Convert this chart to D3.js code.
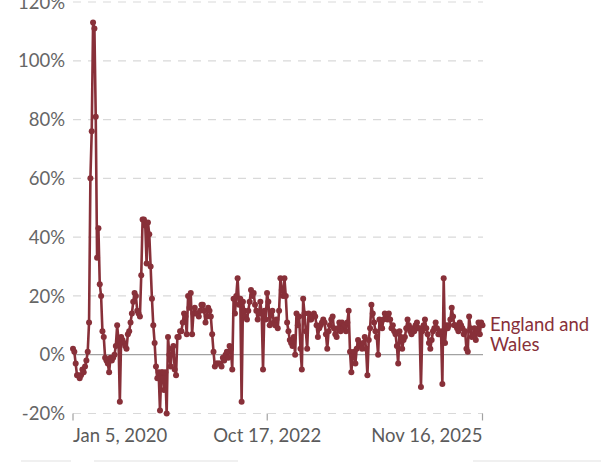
<!DOCTYPE html>
<html><head><meta charset="utf-8">
<script src="https://cdn.jsdelivr.net/npm/d3@7"></script>
<style>
html,body{margin:0;padding:0;background:#fff;}
svg{display:block;font-family:Lato,"Noto Sans",sans-serif;}
</style></head><body>
<svg id="chart" width="601" height="462"></svg>
<script>
// weekly series, first week ending 2020-01-05
const startDate = "2020-01-05";
const seriesLabel = ["England and", "Wales"];
const values = [
  2, 1, -3, -7, -7, -8, -7, -5, -6, -4, -2, 1,
  11, 60, 76, 113, 111, 81, 33, 43, 24, 20,
  8, 6, -1, -2, -3, -6, -1, -2, -1, 0, 3, 10,
  5, -16, 6, 5, 4, 3, 2, 7, 8, 11,
  14, 18, 21, 20, 15, 14, 13,
  27, 46, 46, 44, 31, 45, 41, 30, 19, 10,
  4, -4, -8, -6, -19, -6, -6, -12, -6, -20,
  6, 0, -4, 2, 3, -5, -7, 6, 6, 8,
  8, 11, 14, 13, 7, 20, 16, 21, 7, 14,
  16, 14, 14, 13, 15, 17, 17, 15, 11, 13,
  16, 15, 13, 7, 1, -4, -3, -3, -3, -3,
  -4, -1, -2, 0, 1, -1, 3, 2, -5, 19,
  14, 20, 26, 17, 19, -16, 18, 15, 13, 12,
  15, 18, 22, 20, 21, 17, 15, 12, 14, 18,
  14, -5, 15, 12, 21, 18, 10, 14, 15, 11,
  10, 12, 9, 15, 26, 22, 20, 26, 20, 11,
  8, 5, 4, 3, 6, 0, 14, 10, 13, 2,
  -5, 19, 14, 8, 2, 14, 12, 12, 13, 14,
  13, 10, 6, 9, 10, 11, 12, 11, 7, 2,
  8, 10, 12, 13, 9, 7, 6, 9, 11, 8,
  11, 9, 10, 8, 11, 15, 1, -6, 0, 1,
  -3, 2, 5, 4, 3, 2, 4, 6, 2, -7,
  5, 9, 17, 14, 11, 8, 6, 0, 12, 11,
  9, 12, 14, 13, 12, 14, 12, 9, 10, 8,
  7, 3, -3, 8, 6, 2, 5, 6, 9, 12,
  10, 8, 7, 9, 8, 10, 11, 9, 9, -11,
  8, 10, 12, 9, 7, 4, 2, 5, 8, 9,
  11, 9, 7, 7, 8, -10, 26, 4, 10, 9,
  10, 12, 16, 13, 10, 10, 9, 8, 11, 10,
  9, 7, 8, 2, 1, 13, 9, 6, 7, 9,
  5, 8, 11, 7, 11, 10
];
const yTicks = [-20, 0, 20, 40, 60, 80, 100, 120];
const xTickDates = ["2020-01-05", "2022-10-17", "2025-11-16"];
const xTickLabels = ["Jan 5, 2020", "Oct 17, 2022", "Nov 16, 2025"];

const parse = d3.utcParse("%Y-%m-%d");
const start = parse(startDate);
const data = values.map((v, i) => ({ date: d3.utcDay.offset(start, 7 * i), value: v }));

const color = "#883039";
const svg = d3.select("#chart");

const x = d3.scaleUtc()
  .domain([parse(xTickDates[0]), parse(xTickDates[xTickDates.length - 1])])
  .range([73, 482.5]);
const y = d3.scaleLinear().domain([-20, 120]).range([413.5, 2]);

// gridlines
svg.append("g").selectAll("line")
  .data(yTicks.filter(t => t !== 0))
  .join("line")
  .attr("x1", 73).attr("x2", 483)
  .attr("y1", d => y(d)).attr("y2", d => y(d))
  .attr("stroke", "#d9d9d9").attr("stroke-width", 1.2)
  .attr("stroke-dasharray", "8,7");

// zero line
svg.append("line")
  .attr("x1", 73).attr("x2", 483)
  .attr("y1", y(0)).attr("y2", y(0))
  .attr("stroke", "#a2a2a2").attr("stroke-width", 1.2);

// y labels
svg.append("g").selectAll("text")
  .data(yTicks)
  .join("text")
  .attr("x", 65).attr("y", d => y(d))
  .attr("dy", "0.36em")
  .attr("text-anchor", "end")
  .attr("fill", "#666")
  .attr("font-size", "18.5px")
  .text(d => d + "%");

// x ticks
const xt = svg.append("g");
xt.selectAll("line")
  .data(xTickDates)
  .join("line")
  .attr("x1", d => x(parse(d))).attr("x2", d => x(parse(d)))
  .attr("y1", y(-20)).attr("y2", y(-20) + 7)
  .attr("stroke", "#a2a2a2").attr("stroke-width", 1.2);
xt.selectAll("text")
  .data(xTickDates)
  .join("text")
  .attr("x", d => x(parse(d)))
  .attr("y", 442)
  .attr("text-anchor", (d, i) => i === 0 ? "start" : (i === xTickDates.length - 1 ? "end" : "middle"))
  .attr("fill", "#5b5b5b")
  .attr("font-size", "18.5px")
  .text((d, i) => xTickLabels[i]);

// series line
const line = d3.line().x(d => x(d.date)).y(d => y(d.value));
svg.append("path")
  .datum(data)
  .attr("d", line)
  .attr("fill", "none")
  .attr("stroke", color)
  .attr("stroke-width", 2.6)
  .attr("stroke-linejoin", "round");

svg.append("g").selectAll("circle")
  .data(data)
  .join("circle")
  .attr("cx", d => x(d.date)).attr("cy", d => y(d.value))
  .attr("r", 3)
  .attr("fill", color);

// series label
const lab = svg.append("text")
  .attr("x", 490).attr("y", 331)
  .attr("fill", color)
  .attr("font-size", "18.5px");
lab.selectAll("tspan")
  .data(seriesLabel)
  .join("tspan")
  .attr("x", 490)
  .attr("dy", (d, i) => i === 0 ? 0 : 20)
  .text(d => d);

// faint footer strips
const strips = [[21, 71], [94, 238], [473, 601]];
svg.append("g").selectAll("rect")
  .data(strips)
  .join("rect")
  .attr("x", d => d[0]).attr("width", d => d[1] - d[0])
  .attr("y", 460).attr("height", 2)
  .attr("fill", "#f0f0f0");
</script>
</body></html>
